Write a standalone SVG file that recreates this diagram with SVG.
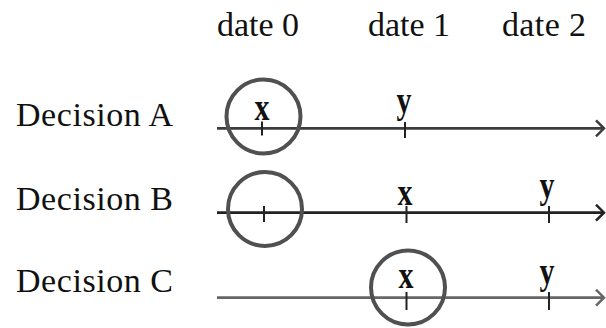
<svg xmlns="http://www.w3.org/2000/svg" width="606" height="328" viewBox="0 0 606 328">
<style>
.lbl{font-family:"Liberation Serif","Times New Roman",serif;font-size:34px;fill:#111}
.mk{font-family:"Liberation Serif","Times New Roman",serif;font-size:30px;font-weight:bold;fill:#111;text-anchor:middle}
.axis{stroke-width:2.8;fill:none}
.tick{stroke:#222;stroke-width:2}
.circ{fill:none;stroke:#505050;stroke-width:4}
</style>
<defs>
<marker id="arr" markerWidth="12" markerHeight="20" refX="9" refY="9" orient="auto" markerUnits="userSpaceOnUse">
<path d="M1,1 L9,9 L1,17" fill="none" stroke="context-stroke" stroke-width="2.5"/>
</marker>
</defs>
<rect width="606" height="328" fill="#fff"/>
<g id="dates">
<text class="lbl" x="217" y="36" textLength="82">date 0</text>
<text class="lbl" x="368" y="36" textLength="82">date 1</text>
<text class="lbl" x="502" y="36" textLength="84">date 2</text>
</g>
<g id="labels">
<text class="lbl" x="16" y="126" textLength="157">Decision A</text>
<text class="lbl" x="16" y="210" textLength="157">Decision B</text>
<text class="lbl" x="16" y="292" textLength="157">Decision C</text>
</g>
<g id="connectors">
<line class="axis" x1="217" y1="128.3" x2="604" y2="128.3" stroke="#3c3c3c" marker-end="url(#arr)"/>
<line class="axis" x1="217" y1="212.7" x2="604" y2="212.7" stroke="#222" marker-end="url(#arr)"/>
<line class="axis" x1="217" y1="297.7" x2="604" y2="297.7" stroke="#666" marker-end="url(#arr)"/>
</g>
<g id="decisionA">
<line class="tick" x1="262" y1="121.5" x2="262" y2="135.5"/>
<line class="tick" x1="405" y1="122" x2="405" y2="138"/>
<text class="mk" transform="translate(262,120) scale(1,1.25)">x</text>
<text class="mk" transform="translate(404,112.5) scale(1,1.25)">y</text>
<circle class="circ" cx="263.5" cy="116.5" r="37"/>
</g>
<g id="decisionB">
<line class="tick" x1="264" y1="206" x2="264" y2="222"/>
<line class="tick" x1="406.5" y1="206" x2="406.5" y2="223"/>
<line class="tick" x1="549" y1="206" x2="549" y2="223"/>
<text class="mk" transform="translate(405,205) scale(1,1.25)">x</text>
<text class="mk" transform="translate(547,198) scale(1,1.25)">y</text>
<circle class="circ" cx="265" cy="209" r="37"/>
</g>
<g id="decisionC">
<line class="tick" x1="406.5" y1="292" x2="406.5" y2="310"/>
<line class="tick" x1="549" y1="292" x2="549" y2="310"/>
<text class="mk" transform="translate(406,288) scale(1,1.25)">x</text>
<text class="mk" transform="translate(547,284) scale(1,1.25)">y</text>
<circle class="circ" cx="408" cy="287.5" r="37"/>
</g>
</svg>
